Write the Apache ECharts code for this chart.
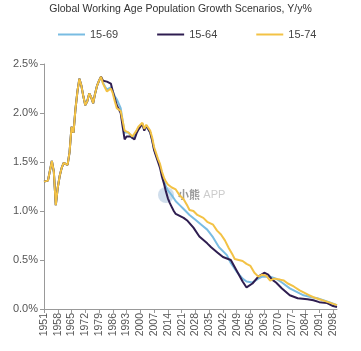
<!DOCTYPE html>
<html>
<head>
<meta charset="utf-8">
<script src="https://cdn.jsdelivr.net/npm/echarts@6/dist/echarts.min.js"></script>
<style>
html,body{margin:0;padding:0;background:#fff;}
#main{width:361px;height:351px;}
</style>
</head>
<body>
<div id="main"></div>
<script>
// 年份 1951-2100
var years = [];
for (var y = 1951; y <= 2100; y++) years.push(String(y));

// 三条线共同的早期部分
var common = [
	[1951,1.30],[1953,1.31],[1955,1.51],[1956,1.40],[1957,1.06],[1958,1.24],[1959,1.36],[1960,1.44],
	[1961,1.49],[1962,1.47],[1963,1.47],[1964,1.60],[1965,1.86],[1966,1.80],[1967,2.04],[1968,2.22],
	[1969,2.35],[1970,2.28],[1971,2.17],[1972,2.08],[1973,2.12],[1974,2.20],[1975,2.16],[1976,2.10],
	[1977,2.20],[1978,2.28],[1979,2.33],[1980,2.37]
];

var s1569 = [
	[1981,2.31],[1982,2.27],[1983,2.24],[1984,2.25],[1985,2.26],[1986,2.22],[1987,2.17],[1988,2.14],
	[1989,2.15],[1990,2.05],[1991,1.92],[1992,1.80],[1993,1.80],[1994,1.80],[1995,1.77],[1996,1.74],
	[1997,1.76],[1998,1.81],[1999,1.85],[2000,1.87],[2001,1.89],[2002,1.83],[2003,1.87],[2004,1.87],
	[2005,1.80],[2006,1.73],[2007,1.63],[2008,1.57],[2009,1.52],[2010,1.46],[2011,1.38],[2012,1.31],
	[2013,1.25],[2014,1.21],[2015,1.19],[2016,1.16],[2017,1.13],[2018,1.10],[2020,1.06],[2022,1.02],
	[2025,0.96],[2028,0.91],[2031,0.86],[2034,0.81],[2037,0.73],[2040,0.63],[2044,0.55],[2046,0.47],
	[2049,0.38],[2052,0.31],[2054,0.28],[2057,0.27],[2060,0.31],[2062,0.33],[2066,0.33],[2069,0.31],
	[2072,0.27],[2076,0.21],[2080,0.17],[2083,0.14],[2087,0.12],[2090,0.11],[2093,0.09],[2096,0.07],
	[2100,0.04]
];

var s1564 = [
	[1981,2.33],[1982,2.32],[1983,2.32],[1984,2.32],[1985,2.30],[1986,2.22],[1987,2.15],[1988,2.08],
	[1989,2.08],[1990,2.00],[1991,1.86],[1992,1.73],[1993,1.76],[1994,1.78],[1995,1.76],[1996,1.74],
	[1997,1.73],[1998,1.79],[1999,1.83],[2000,1.85],[2001,1.89],[2002,1.82],[2003,1.87],[2004,1.86],
	[2005,1.80],[2006,1.72],[2007,1.62],[2008,1.56],[2009,1.50],[2010,1.44],[2011,1.35],[2012,1.28],
	[2013,1.20],[2014,1.13],[2015,1.08],[2016,1.04],[2017,1.00],[2018,0.97],[2019,0.95],[2020,0.95],
	[2022,0.93],[2024,0.90],[2027,0.83],[2030,0.74],[2034,0.67],[2036,0.63],[2039,0.58],[2042,0.53],
	[2046,0.50],[2049,0.39],[2052,0.28],[2054,0.22],[2057,0.26],[2060,0.33],[2063,0.37],[2065,0.35],
	[2067,0.30],[2069,0.27],[2072,0.21],[2076,0.14],[2080,0.11],[2085,0.10],[2088,0.09],[2091,0.07],
	[2095,0.06],[2098,0.03],[2100,0.02]
];

var s1574 = [
	[1981,2.30],[1982,2.26],[1983,2.22],[1984,2.24],[1985,2.25],[1986,2.20],[1987,2.12],[1988,2.05],
	[1989,2.06],[1990,2.02],[1991,1.92],[1992,1.82],[1993,1.84],[1994,1.80],[1995,1.78],[1996,1.76],
	[1997,1.78],[1998,1.82],[1999,1.86],[2000,1.88],[2001,1.90],[2002,1.84],[2003,1.88],[2004,1.88],
	[2005,1.82],[2006,1.75],[2007,1.65],[2008,1.59],[2009,1.53],[2010,1.48],[2011,1.40],[2012,1.34],
	[2013,1.30],[2014,1.27],[2015,1.27],[2016,1.24],[2017,1.22],[2018,1.22],[2019,1.20],[2020,1.16],
	[2021,1.15],[2022,1.12],[2023,1.10],[2024,1.05],[2025,1.01],[2026,1.02],[2027,1.00],[2029,0.96],
	[2030,0.95],[2032,0.93],[2034,0.89],[2035,0.88],[2037,0.86],[2039,0.80],[2041,0.76],[2043,0.70],
	[2045,0.62],[2047,0.55],[2048,0.51],[2050,0.50],[2052,0.49],[2054,0.46],[2056,0.44],[2058,0.37],
	[2060,0.33],[2062,0.35],[2064,0.34],[2066,0.29],[2068,0.31],[2071,0.30],[2073,0.29],[2075,0.26],
	[2078,0.23],[2081,0.19],[2083,0.17],[2086,0.14],[2088,0.12],[2091,0.10],[2094,0.08],[2097,0.06],
	[2100,0.04]
];

function toSeries(points){
	var arr = [];
	for (var i = 0; i < years.length; i++) arr.push(null);
	var all = common.concat(points);
	for (var j = 0; j < all.length; j++) {
		arr[all[j][0] - 1951] = all[j][1];
	}
	return arr;
}

var myChart = echarts.init(document.getElementById('main'));
var font = 'Liberation Sans';
var option = {
	backgroundColor: '#fff',
	animation: false,
	title : {
		text : 'Global Working Age Population Growth Scenarios, Y/y%',
		left : 'center',
		top : 4,
		padding : 0,
		textStyle : { fontSize: 10.5, fontWeight: 'normal', color: '#333', fontFamily: font }
	},
	legend : {
		top : 24,
		left : 53,
		itemGap : 39,
		itemWidth : 27,
		itemHeight : 2,
		icon : 'rect',
		textStyle : { fontSize: 11, color: '#444', fontFamily: font },
		data : ['15-69','15-64','15-74']
	},
	grid : {
		left : 44,
		right : 24,
		top : 64,
		bottom : 42
	},
	xAxis : [ {
		type : 'category',
		boundaryGap : false,
		data : years,
		axisLine : { lineStyle: { color: '#999' } },
		axisTick : { interval: 6, length: 4, lineStyle: { color: '#999' } },
		axisLabel : { interval: 6, rotate: 90, fontSize: 10.5, color: '#555', fontFamily: font, margin: 4 }
	} ],
	yAxis : [ {
		type : 'value',
		min : 0,
		max : 2.5,
		interval : 0.5,
		axisLine : { show: true, lineStyle: { color: '#999' } },
		axisTick : { show: true, length: 4, lineStyle: { color: '#999' } },
		splitLine : { show: false },
		axisLabel : {
			fontSize: 11, color: '#555', fontFamily: font, margin: 6,
			formatter: function(v){ return v.toFixed(1) + '%'; }
		}
	} ],
	series : [ {
		name : '15-69',
		type : 'line',
		data : toSeries(s1569),
		connectNulls : true,
		showSymbol : false,
		color : '#79BCE2',
		lineStyle : { width: 2, color: '#79BCE2' }
	}, {
		name : '15-64',
		type : 'line',
		data : toSeries(s1564),
		connectNulls : true,
		showSymbol : false,
		color : '#2E1D50',
		lineStyle : { width: 2, color: '#2E1D50' }
	}, {
		name : '15-74',
		type : 'line',
		data : toSeries(s1574),
		connectNulls : true,
		showSymbol : false,
		color : '#F3C245',
		lineStyle : { width: 2, color: '#F3C245' }
	} ],
	// 水印
	graphic : [ {
		type : 'circle',
		shape : { cx: 166, cy: 195, r: 8 },
		style : { fill: 'rgba(120,160,200,0.35)' }
	}, {
		type : 'text',
		left : 178,
		top : 189,
		style : {
			text: '{a|小熊} {b|APP}',
			rich: {
				a: { fontSize: 11, fill: 'rgba(110,110,110,0.7)', fontFamily: 'Noto Sans CJK SC', fontWeight: 'bold' },
				b: { fontSize: 11, fill: 'rgba(170,170,170,0.6)', fontFamily: font }
			}
		}
	} ]
};
myChart.setOption(option);
</script>
</body>
</html>
